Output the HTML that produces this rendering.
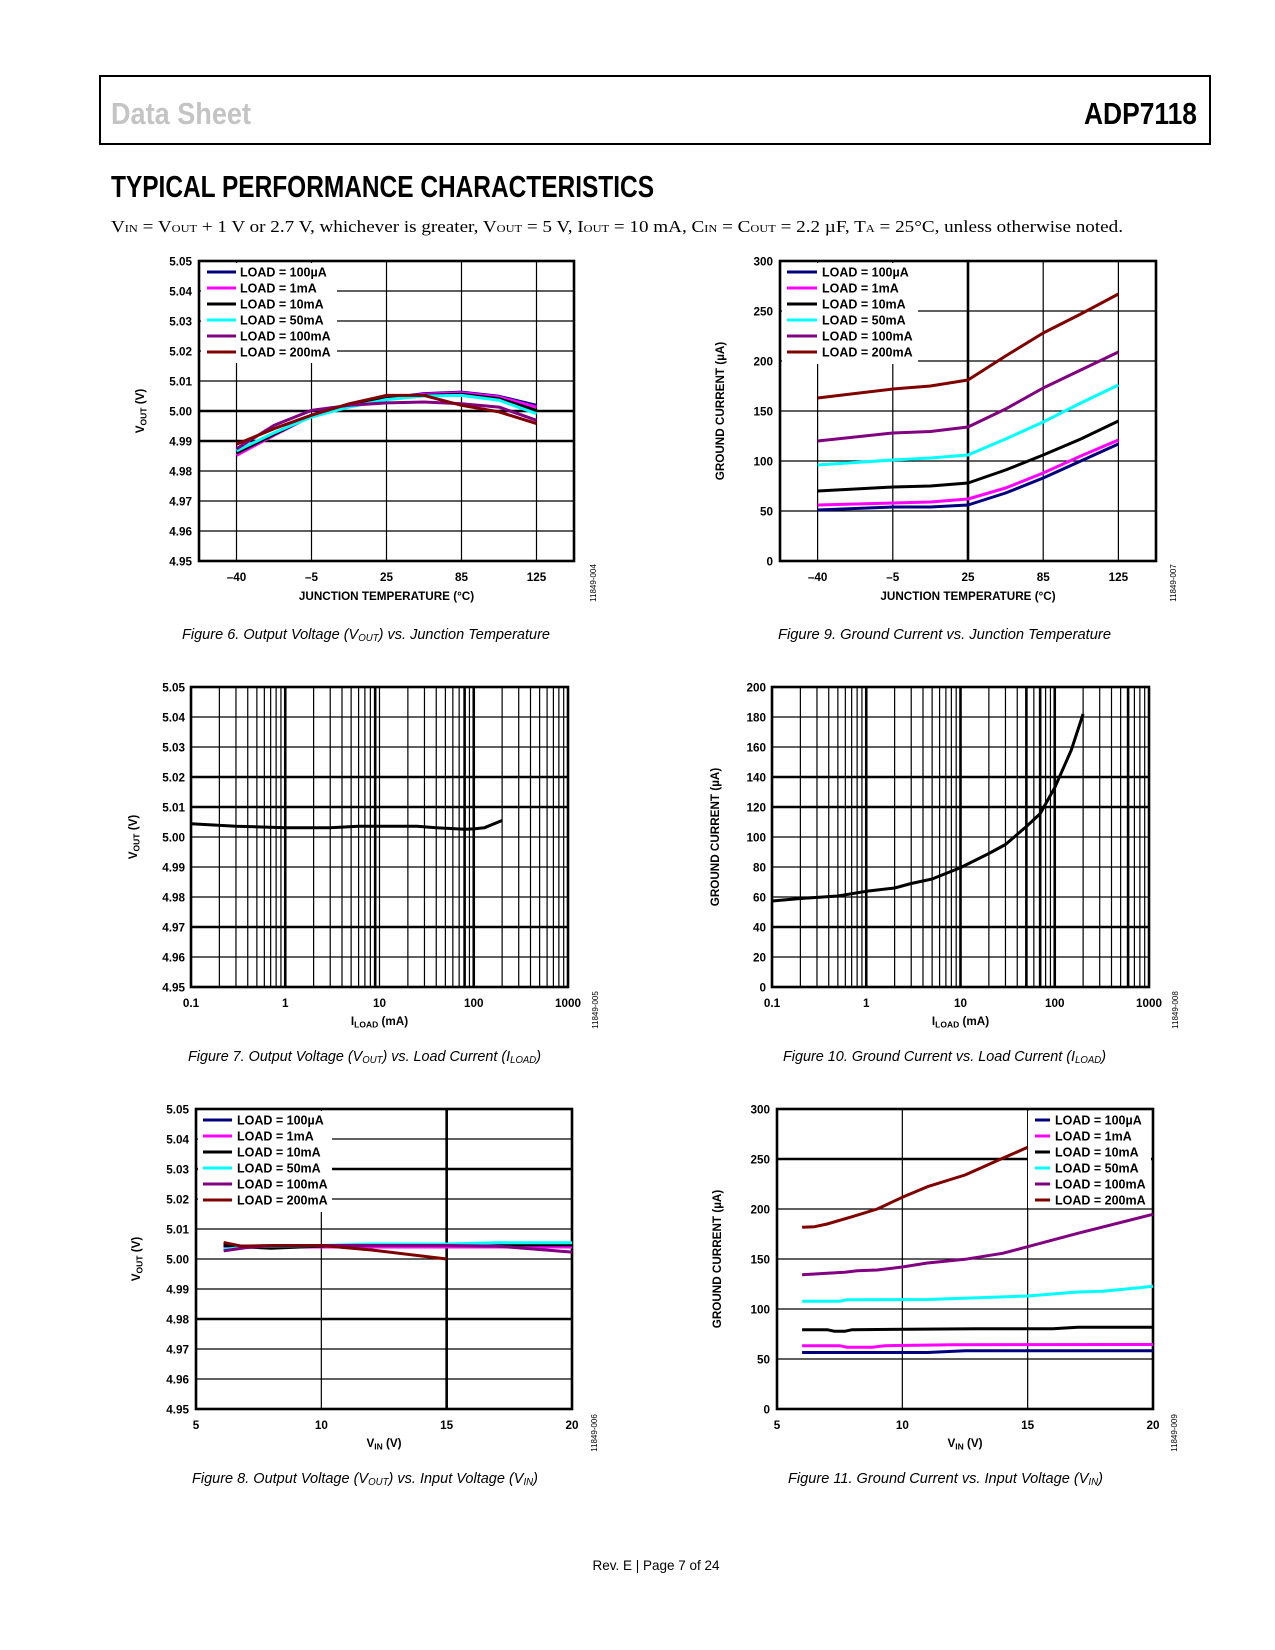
<!DOCTYPE html>
<html><head><meta charset="utf-8">
<style>
html,body{margin:0;padding:0;background:#fff;}
svg{display:block;}
</style></head>
<body>
<svg id="page" width="1275" height="1650" viewBox="0 0 1275 1650" xmlns="http://www.w3.org/2000/svg" font-family="Liberation Sans, sans-serif">
  <rect x="100" y="76" width="1110" height="68" fill="none" stroke="#000" stroke-width="2"/>
  <text x="111" y="124" font-family="Liberation Sans Narrow, Liberation Sans, sans-serif" font-weight="bold" font-size="31" fill="#c4c4c4" textLength="140" lengthAdjust="spacingAndGlyphs">Data Sheet</text>
  <text x="1197" y="124" text-anchor="end" font-family="Liberation Sans Narrow, Liberation Sans, sans-serif" font-weight="bold" font-size="31" fill="#000" textLength="113" lengthAdjust="spacingAndGlyphs">ADP7118</text>
  <text x="111" y="197" font-family="Liberation Sans Narrow, Liberation Sans, sans-serif" font-weight="bold" font-size="31" fill="#000" textLength="543" lengthAdjust="spacingAndGlyphs">TYPICAL PERFORMANCE CHARACTERISTICS</text>
  <text x="111" y="232" font-family="Liberation Serif, serif" font-size="17" fill="#000" textLength="1012" lengthAdjust="spacingAndGlyphs">V<tspan font-size="11">IN</tspan> = V<tspan font-size="11">OUT</tspan> + 1 V or 2.7 V, whichever is greater, V<tspan font-size="11">OUT</tspan> = 5 V, I<tspan font-size="11">OUT</tspan> = 10 mA, C<tspan font-size="11">IN</tspan> = C<tspan font-size="11">OUT</tspan> = 2.2 µF, T<tspan font-size="11">A</tspan> = 25°C, unless otherwise noted.</text>
  <text x="656" y="1570" text-anchor="middle" font-size="14" fill="#000" textLength="127" lengthAdjust="spacingAndGlyphs">Rev. E | Page 7 of 24</text>
</svg>
<script>
// ---------- Data ----------
const legendLabels = ["LOAD = 100µA","LOAD = 1mA","LOAD = 10mA","LOAD = 50mA","LOAD = 100mA","LOAD = 200mA"];
const seriesColors = ["#00007f","#ff00ff","#000000","#00ffff","#800080","#800000"];

// Fig 6: VOUT vs junction temperature
const tempCategories = ["–40","–5","25","85","125"];
const tempIndex = [0,0.5,1,1.5,2,2.5,3,3.5,4];
const f6_100uA = [4.9863,4.9924,4.9986,5.0019,5.0042,5.0058,5.0063,5.0049,5.0019];
const f6_1mA   = [4.9852,4.9919,4.9983,5.0017,5.0041,5.0056,5.0061,5.0047,5.0013];
const f6_10mA  = [4.9860,4.9922,4.9983,5.0019,5.0041,5.0052,5.0056,5.0041,5.0002];
const f6_50mA  = [4.9867,4.9927,4.9980,5.0013,5.0038,5.0050,5.0052,5.0036,4.9991];
const f6_100mA = [4.9874,4.9952,5.0002,5.0019,5.0027,5.0030,5.0024,5.0013,4.9969];
const f6_200mA = [4.9889,4.9941,4.9986,5.0024,5.0052,5.0052,5.0019,4.9997,4.9958];
const voutTicks = ["4.95","4.96","4.97","4.98","4.99","5.00","5.01","5.02","5.03","5.04","5.05"];

// Fig 9: ground current vs junction temperature
const f9_100uA = [51,52.5,54,54,56,68,83,100,117];
const f9_1mA   = [56,57,58,59,62,73,88,105,121];
const f9_10mA  = [70,72,74,75,78,91,106,122,140];
const f9_50mA  = [96,98.5,101,103,106,122,139,158,176];
const f9_100mA = [120,124,128,129.5,134,152,173,191,209];
const f9_200mA = [163,167.5,172,175,181,205,228,247,267];
const gnd300Ticks = ["0","50","100","150","200","250","300"];

// Fig 7: VOUT vs load current
const f7_load = [0.1,0.3,1,3,6,10,25,40,80,100,130,200];
const f7_vout = [5.0044,5.0036,5.0031,5.0031,5.0036,5.0036,5.0036,5.0031,5.0026,5.0027,5.0031,5.0055];
const logTicks = ["0.1","1","10","100","1000"];

// Fig 10: ground current vs load current
const f10_load = [0.1,0.2,0.5,1,2,3,5,10,20,30,50,70,100,150,200];
const f10_gnd  = [57.3,59,60.7,63.8,66,69,72,79.6,89,95,107,115.6,133,158,182];
const gnd200Ticks = ["0","20","40","60","80","100","120","140","160","180","200"];

// Fig 8: VOUT vs VIN
const f8_vin = [6.1,7,8,10,12,15,17,20];
const f8_100uA = [5.0045,5.0043,5.0043,5.0044,5.0045,5.0045,5.0045,5.0045];
const f8_1mA   = [5.0035,5.0040,5.0040,5.0040,5.0040,5.0040,5.0040,5.0040];
const f8_10mA  = [5.0045,5.0040,5.0036,5.0043,5.0045,5.0045,5.0047,5.0047];
const f8_50mA  = [5.0032,5.0040,5.0043,5.0045,5.0050,5.0050,5.0054,5.0054];
const f8_100mA = [5.0027,5.0038,5.0044,5.0045,5.0045,5.0045,5.0043,5.0023];
const f8_vin200 = [6.1,6.8,8,10,12,15];
const f8_200mA = [5.0055,5.0043,5.0045,5.0045,5.0030,5.0000];
const vinTicks = ["5","10","15","20"];

// Fig 11: ground current vs VIN
const f11_vin100uA = [6,11,12.5,20];
const f11_100uA = [56.5,56.5,58.3,58.3];
const f11_vin1mA = [6,7.5,7.8,8.8,9.3,12,20];
const f11_1mA = [63.3,63.3,61.7,61.7,63.3,64.3,64.5];
const f11_vin10mA = [6,7,7.3,7.7,8,13,16,17,20];
const f11_10mA = [79.3,79.3,77.7,77.7,79.3,80.3,80.3,81.7,81.7];
const f11_vin50mA = [6,7.5,7.8,11,15,17,18,20];
const f11_50mA = [107.7,107.7,109.3,109.5,113,117,117.7,122.7];
const f11_vin100mA = [6,7,7.7,8.2,9,10,11,12.5,14,15,17,20];
const f11_100mA = [134.3,135.7,136.7,138.3,139,142,146,149.7,155.7,162.3,175.7,194.7];
const f11_vin200mA = [6,6.5,7,8,9,10,11,12.5,14,15];
const f11_200mA = [181.7,182.3,185,192.3,200,211.7,222.3,234,250.7,261.7];

// ---------- Drawing ----------
const NS = "http://www.w3.org/2000/svg";
const svg = document.getElementById("page");
function mk(tag, parent){ const e=document.createElementNS(NS,tag); parent.appendChild(e); return e; }
function line(g,x1,y1,x2,y2,w){
  const l=mk("line",g);
  l.setAttribute("x1",x1);l.setAttribute("y1",y1);l.setAttribute("x2",x2);l.setAttribute("y2",y2);
  l.setAttribute("stroke","#000");l.setAttribute("stroke-width",w);
  return l;
}
function txt(g,x,y,s,anchor,size){
  const t=mk("text",g);
  t.setAttribute("x",x);t.setAttribute("y",y);t.setAttribute("text-anchor",anchor);
  t.setAttribute("font-size",size);t.setAttribute("font-weight","bold");
  t.textContent=s;
  return t;
}

function chart(c){
  const g=mk("g",svg);
  
  
  const L=c.L,R=c.R,T=c.T,B=c.B;
  const xs=c.xs, ys=c.ys;
  const gg=mk("g",g);
  
  
  c.yGrid.forEach(v=>{ const l=line(gg,L,ys(v),R,ys(v),c.yThick.includes(v)?2.6:1.2);
    
     });
  c.xGrid.forEach(v=>{ const l=line(gg,xs(v),T,xs(v),B,c.xThick.includes(v)?2.6:1.2);
    
     });
  const fr=mk("rect",g);
  fr.setAttribute("x",L);fr.setAttribute("y",T);fr.setAttribute("width",R-L);fr.setAttribute("height",B-T);
  fr.setAttribute("fill","none");fr.setAttribute("stroke","#000");fr.setAttribute("stroke-width",2.6);
  
  
  if(c.legend){
    const lg=c.legend;
    const bg=mk("rect",g);
    bg.setAttribute("x",lg.x0);bg.setAttribute("y",lg.y0);bg.setAttribute("width",lg.x1-lg.x0);bg.setAttribute("height",lg.y1-lg.y0);
    bg.setAttribute("fill","#fff");
    
    
  }
  c.series.forEach(s=>{
    const p=mk("polyline",g);
    p.setAttribute("points",s.x.map((xv,k)=>xs(xv).toFixed(1)+","+ys(s.y[k]).toFixed(1)).join(" "));
    p.setAttribute("fill","none");p.setAttribute("stroke",s.color);p.setAttribute("stroke-width",3);
    p.setAttribute("stroke-linejoin","round");
    
    
  });
  if(c.legend){
    const lg=c.legend;
    legendLabels.forEach((lab,i)=>{
      const e=mk("g",g);
      
      
      const y=lg.ry+i*16;
      const l=line(e,lg.sx0,y,lg.sx1,y,3); l.setAttribute("stroke",seriesColors[i]);
      txt(e,lg.tx,y+4.5,lab,"start",12.5);
    });
  }
  c.yLabels.forEach((s,i)=>{
    const t=txt(g,c.yLabelX,ys(c.yLabelVals[i])+4.3,s,"end",11.7);
    
    
  });
  c.xLabels.forEach((s,i)=>{
    const t=txt(g,xs(c.xLabelVals[i]),c.xLabelY,s,"middle",11.7);
    
    
  });
  const xt=txt(g,(L+R)/2,c.xTitleY,"","middle",11.7);
  xt.innerHTML=c.xTitle;
  
  
  const yt=txt(g,0,0,"","middle",11.7);
  yt.innerHTML=c.yTitle;
  yt.setAttribute("transform","translate("+c.yTitleX+","+((T+B)/2)+") rotate(-90)");
  
  
  const wm=mk("text",g);
  wm.setAttribute("font-size","8");wm.setAttribute("text-anchor","middle");
  wm.setAttribute("transform","translate("+c.wmX+","+c.wmY+") rotate(-90)");
  wm.textContent=c.wm;
  
  
  const cap=mk("text",g);
  cap.setAttribute("x",c.capX);cap.setAttribute("y",B+74+(c.capDy||0));
  cap.setAttribute("font-size","15");cap.setAttribute("font-style","italic");
  cap.setAttribute("font-family","Liberation Sans Narrow, Liberation Sans, sans-serif");
  cap.setAttribute("textLength",c.capW);cap.setAttribute("lengthAdjust","spacingAndGlyphs");
  cap.innerHTML=c.caption;
  
  
}

function lin(d0,d1,p0,p1){ return v=>p0+(v-d0)/(d1-d0)*(p1-p0); }
function logS(d0,d1,p0,p1){ return v=>p0+(Math.log10(v)-Math.log10(d0))/(Math.log10(d1)-Math.log10(d0))*(p1-p0); }
function catS(L,R,n){ return v=>L+(v+0.5)*(R-L)/n; }
const voutVals = voutTicks.map(Number);
const sub = s=>'<tspan font-size="8.5" dy="2.5">'+s+'</tspan><tspan dy="-2.5">';
const VOUT_TITLE = 'V'+sub('OUT')+' (V)</tspan>';
const GND_TITLE = 'GROUND CURRENT (µA)';
const logGrid=[]; for(let d=-1; d<=2; d++) for(let k=1;k<=9;k++) logGrid.push(k*Math.pow(10,d));

function ser(xArr, yArrs){ return yArrs.map((y,i)=>({x:Array.isArray(xArr[0])?xArr[i]:xArr, y:y, color:seriesColors[i], key:["100uA","1mA","10mA","50mA","100mA","200mA"][i]})); }

(function(){
  const L=199,R=574,T=261,B=561;
  chart({name:"figure-6-vout-vs-temperature",L,R,T,B,xs:catS(L,R,5),ys:lin(4.95,5.05,B,T),
    yGrid:voutVals,yThick:[5.00,4.99],xGrid:[0,1,2,3,4],xThick:[],
    series:ser(tempIndex,[f6_100uA,f6_1mA,f6_10mA,f6_50mA,f6_100mA,f6_200mA]),
    legend:{x0:L+2,x1:337,y0:T+2,y1:363,ry:272,sx0:207,sx1:236,tx:240},
    yLabels:voutTicks,yLabelVals:voutVals,yLabelX:192,
    xLabels:tempCategories,xLabelVals:[0,1,2,3,4],xLabelY:581,
    xTitle:"JUNCTION TEMPERATURE (°C)",xTitleY:600,yTitle:VOUT_TITLE,yTitleX:144,
    wm:"11849-004",wmX:596,wmY:583,capX:182,capW:368,capDy:4,
    caption:'Figure 6. Output Voltage (V<tspan font-size="10" dy="2">OUT</tspan><tspan dy="-2">) vs. Junction Temperature</tspan>'});
})();
(function(){
  const L=780,R=1156,T=261,B=561;
  chart({name:"figure-9-ground-current-vs-temperature",L,R,T,B,xs:catS(L,R,5),ys:lin(0,300,B,T),
    yGrid:[50,100,150,200,250],yThick:[],xGrid:[0,1,2,3,4],xThick:[2],
    series:ser(tempIndex,[f9_100uA,f9_1mA,f9_10mA,f9_50mA,f9_100mA,f9_200mA]),
    legend:{x0:L+2,x1:918,y0:T+2,y1:364,ry:272,sx0:787,sx1:817,tx:822},
    yLabels:gnd300Ticks,yLabelVals:gnd300Ticks.map(Number),yLabelX:773,
    xLabels:tempCategories,xLabelVals:[0,1,2,3,4],xLabelY:581,
    xTitle:"JUNCTION TEMPERATURE (°C)",xTitleY:600,yTitle:GND_TITLE,yTitleX:724,
    wm:"11849-007",wmX:1176,wmY:583,capX:778,capW:333,capDy:4,
    caption:'Figure 9. Ground Current vs. Junction Temperature'});
})();
(function(){
  const L=191,R=568,T=687,B=987;
  chart({name:"figure-7-vout-vs-load-current",L,R,T,B,xs:logS(0.1,1000,L,R),ys:lin(4.95,5.05,B,T),
    yGrid:voutVals,yThick:[5.02,5.01,4.97],xGrid:logGrid,xThick:[0.3,1,9,80,100],
    series:[{x:f7_load,y:f7_vout,color:"#000",key:"vout"}],
    yLabels:voutTicks,yLabelVals:voutVals,yLabelX:185,
    xLabels:logTicks,xLabelVals:logTicks.map(Number),xLabelY:1007,
    xTitle:'I'+sub('LOAD')+' (mA)</tspan>',xTitleY:1025,yTitle:VOUT_TITLE,yTitleX:137,
    wm:"11849-005",wmX:598,wmY:1010,capX:188,capW:353,
    caption:'Figure 7. Output Voltage (V<tspan font-size="10" dy="2">OUT</tspan><tspan dy="-2">) vs. Load Current (I</tspan><tspan font-size="10" dy="2">LOAD</tspan><tspan dy="-2">)</tspan>'});
})();
(function(){
  const L=772,R=1149,T=687,B=987;
  chart({name:"figure-10-ground-current-vs-load-current",L,R,T,B,xs:logS(0.1,1000,L,R),ys:lin(0,200,B,T),
    yGrid:gnd200Ticks.map(Number),yThick:[140,120,40],xGrid:logGrid,xThick:[1,10,50,70,100,600],
    series:[{x:f10_load,y:f10_gnd,color:"#000",key:"ground-current"}],
    yLabels:gnd200Ticks,yLabelVals:gnd200Ticks.map(Number),yLabelX:766,
    xLabels:logTicks,xLabelVals:logTicks.map(Number),xLabelY:1007,
    xTitle:'I'+sub('LOAD')+' (mA)</tspan>',xTitleY:1025,yTitle:GND_TITLE,yTitleX:719,
    wm:"11849-008",wmX:1178,wmY:1010,capX:783,capW:323,
    caption:'Figure 10. Ground Current vs. Load Current (I<tspan font-size="10" dy="2">LOAD</tspan><tspan dy="-2">)</tspan>'});
})();
(function(){
  const L=196,R=572,T=1109,B=1409;
  chart({name:"figure-8-vout-vs-input-voltage",L,R,T,B,xs:lin(5,20,L,R),ys:lin(4.95,5.05,B,T),
    yGrid:voutVals,yThick:[5.03,4.98],xGrid:[10,15],xThick:[15],
    series:ser([f8_vin,f8_vin,f8_vin,f8_vin,f8_vin,f8_vin200],[f8_100uA,f8_1mA,f8_10mA,f8_50mA,f8_100mA,f8_200mA]),
    legend:{x0:L+2,x1:332,y0:T+2,y1:1212,ry:1120,sx0:203,sx1:232,tx:237},
    yLabels:voutTicks,yLabelVals:voutVals,yLabelX:189,
    xLabels:vinTicks,xLabelVals:vinTicks.map(Number),xLabelY:1429,
    xTitle:'V'+sub('IN')+' (V)</tspan>',xTitleY:1447,yTitle:VOUT_TITLE,yTitleX:140,
    wm:"11849-006",wmX:597,wmY:1433,capX:192,capW:346,
    caption:'Figure 8. Output Voltage (V<tspan font-size="10" dy="2">OUT</tspan><tspan dy="-2">) vs. Input Voltage (V</tspan><tspan font-size="10" dy="2">IN</tspan><tspan dy="-2">)</tspan>'});
})();
(function(){
  const L=777,R=1153,T=1109,B=1409;
  chart({name:"figure-11-ground-current-vs-input-voltage",L,R,T,B,xs:lin(5,20,L,R),ys:lin(0,300,B,T),
    yGrid:[50,100,150,200,250],yThick:[250],xGrid:[10,15],xThick:[],
    series:ser([f11_vin100uA,f11_vin1mA,f11_vin10mA,f11_vin50mA,f11_vin100mA,f11_vin200mA],[f11_100uA,f11_1mA,f11_10mA,f11_50mA,f11_100mA,f11_200mA]),
    legend:{x0:1028,x1:R-2,y0:T+2,y1:1208,ry:1120,sx0:1035,sx1:1050,tx:1055},
    yLabels:gnd300Ticks,yLabelVals:gnd300Ticks.map(Number),yLabelX:770,
    xLabels:vinTicks,xLabelVals:vinTicks.map(Number),xLabelY:1429,
    xTitle:'V'+sub('IN')+' (V)</tspan>',xTitleY:1447,yTitle:GND_TITLE,yTitleX:721,
    wm:"11849-009",wmX:1177,wmY:1433,capX:788,capW:315,
    caption:'Figure 11. Ground Current vs. Input Voltage (V<tspan font-size="10" dy="2">IN</tspan><tspan dy="-2">)</tspan>'});
})();
</script>
</body></html>
